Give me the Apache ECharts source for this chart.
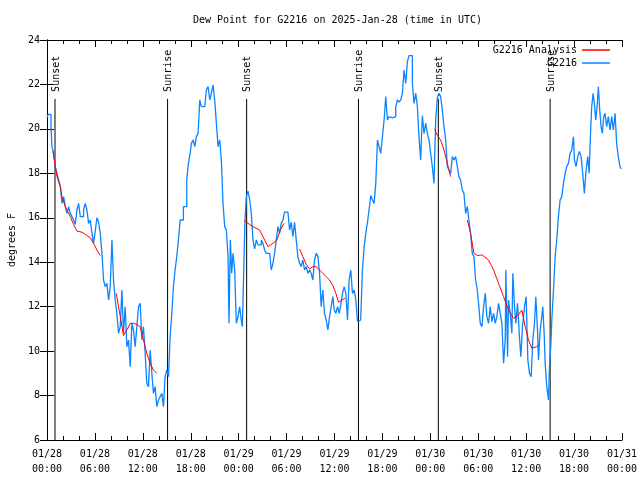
<!DOCTYPE html>
<html>
<head>
<meta charset="utf-8">
<script src="https://cdn.jsdelivr.net/npm/echarts@6/dist/echarts.min.js"></script>
<style>html,body{margin:0;padding:0;background:#fff}#c{width:640px;height:480px}</style>
</head>
<body>
<div id="c"></div>
<script>
// hours since 2025-01-28 00:00 UTC
var tickLabels = ['01/28\n00:00','01/28\n06:00','01/28\n12:00','01/28\n18:00','01/29\n00:00','01/29\n06:00','01/29\n12:00','01/29\n18:00','01/30\n00:00','01/30\n06:00','01/30\n12:00','01/30\n18:00','01/31\n00:00'];

var obsHours = [0,0.15,0.5,0.62,0.83,1.04,1.25,1.46,1.67,1.88,2.08,2.29,2.5,2.71,2.92,3.13,3.33,3.54,3.75,3.96,4.17,4.38,4.58,4.79,5.0,5.21,5.42,5.63,5.83,6.04,6.25,6.46,6.67,6.88,7.08,7.29,7.5,7.71,7.92,8.13,8.33,8.54,8.75,8.96,9.17,9.38,9.58,9.79,10.0,10.21,10.42,10.63,10.83,11.04,11.25,11.46,11.67,11.88,12.08,12.29,12.5,12.71,12.92,13.13,13.33,13.54,13.75,13.96,14.17,14.38,14.58,14.79,15.0,15.21,15.3,15.42,15.63,15.83,16.04,16.25,16.46,16.67,16.88,17.08,17.29,17.5,17.71,17.92,18.08,18.29,18.5,18.71,18.92,19.13,19.33,19.54,19.75,19.96,20.17,20.38,20.58,20.79,21.0,21.21,21.42,21.63,21.83,22.04,22.25,22.46,22.67,22.79,22.96,23.13,23.29,23.5,23.71,23.92,24.13,24.33,24.46,24.63,24.79,24.96,25.17,25.38,25.58,25.79,26.0,26.21,26.42,26.63,26.83,27.04,27.25,27.46,27.67,27.88,28.08,28.29,28.5,28.71,28.92,29.13,29.33,29.54,29.75,29.96,30.17,30.38,30.58,30.79,31.0,31.21,31.42,31.63,31.83,32.04,32.25,32.46,32.67,32.88,33.08,33.29,33.5,33.71,33.92,34.13,34.33,34.54,34.75,34.96,35.17,35.38,35.58,35.79,35.96,36.17,36.38,36.58,36.79,37.0,37.21,37.42,37.63,37.83,38.04,38.25,38.46,38.67,38.88,39.08,39.29,39.5,39.71,39.92,40.13,40.33,40.54,40.75,40.96,41.17,41.38,41.58,41.79,42.0,42.21,42.42,42.63,42.83,43.04,43.25,43.46,43.67,43.88,44.08,44.29,44.5,44.71,44.92,45.13,45.33,45.54,45.75,45.96,46.17,46.38,46.58,46.79,47.0,47.21,47.42,47.63,47.83,48.04,48.25,48.46,48.67,48.88,49.08,49.29,49.5,49.71,49.92,50.13,50.33,50.54,50.75,50.96,51.17,51.38,51.58,51.79,52.0,52.21,52.42,52.63,52.83,53.04,53.25,53.46,53.67,53.88,54.04,54.25,54.46,54.67,54.88,55.08,55.29,55.5,55.71,55.92,56.13,56.33,56.54,56.75,56.96,57.17,57.38,57.46,57.67,57.79,58.0,58.21,58.33,58.54,58.71,58.92,59.13,59.33,59.54,59.79,60.0,60.21,60.42,60.63,60.83,61.04,61.21,61.42,61.54,61.75,61.96,62.08,62.25,62.38,62.58,62.79,62.92,63.08,63.21,63.42,63.63,63.83,64.04,64.25,64.46,64.67,64.88,65.08,65.29,65.5,65.71,65.92,66.04,66.25,66.46,66.67,66.88,67.08,67.29,67.5,67.71,67.88,68.08,68.21,68.38,68.54,68.71,68.88,69.04,69.21,69.38,69.54,69.71,69.88,70.08,70.29,70.5,70.71,70.92,71.13,71.33,71.54,71.75,71.9];
var obsDew = [20.5,20.65,20.1,19.2,18.9,18.3,18.0,17.7,17.4,16.65,16.95,16.5,16.2,16.5,16.2,16.05,15.9,15.7,16.35,16.65,16.05,16.05,16.35,16.65,16.35,15.75,15.9,15.3,14.85,15.4,16.0,15.8,15.3,14.4,13.2,12.9,13.05,12.3,12.9,15.0,13.2,12.3,11.7,10.8,11.1,12.75,10.8,12.0,10.2,10.5,9.3,11.25,10.95,10.2,11.1,12.0,12.15,10.5,11.1,9.9,8.55,8.4,10.05,9.0,8.1,8.4,7.5,7.8,7.95,8.1,7.5,8.85,9.15,8.85,9.6,10.65,11.7,12.9,13.65,14.25,15.0,15.9,15.9,16.5,16.5,17.7,18.45,18.9,19.35,19.5,19.2,19.65,19.8,21.3,21.0,21.0,21.08,21.75,21.9,21.3,21.6,21.98,21.3,20.25,19.2,19.5,18.6,16.65,15.6,15.45,14.25,11.25,15.0,13.5,14.4,13.65,11.25,11.55,12.0,11.4,11.1,13.5,15.9,16.95,17.2,16.8,16.2,15.0,14.6,15.0,14.78,14.78,15.0,14.85,14.55,14.4,14.4,14.4,13.65,13.95,14.4,15.0,15.6,15.3,15.75,15.9,16.25,16.25,16.2,15.45,15.8,15.15,15.8,15.0,14.25,13.95,13.8,14.1,13.65,13.8,13.5,13.65,13.5,13.2,14.1,14.4,14.25,13.5,12.0,12.75,11.7,11.4,10.95,11.55,12.0,12.45,11.85,11.7,12.0,11.7,12.08,12.6,12.9,12.6,11.4,13.2,13.65,12.6,12.75,12.3,11.33,11.4,11.55,13.65,14.7,15.3,15.8,16.35,17.0,16.8,16.65,17.55,19.5,19.2,18.9,19.65,20.4,21.45,20.4,20.55,20.5,20.55,20.55,21.0,21.3,21.2,21.3,21.6,22.65,22.05,23.03,23.3,23.3,22.05,21.15,21.6,21.0,19.65,18.6,20.6,19.8,20.25,19.8,19.5,18.9,18.3,17.55,20.4,21.4,21.6,21.45,20.85,20.1,19.5,18.3,18.15,18.0,18.75,18.6,18.75,18.3,17.85,17.7,17.25,17.1,16.2,16.5,15.9,15.3,14.4,14.25,13.2,12.75,12.15,11.25,11.1,12.0,12.6,11.55,11.25,12.0,11.33,11.7,11.25,11.55,12.15,11.7,11.25,9.45,10.5,13.65,9.75,12.3,11.7,10.8,13.5,12.0,11.25,12.15,10.8,9.75,11.1,12.0,12.45,9.6,9.0,8.85,10.5,11.25,12.45,10.95,9.6,10.95,11.55,12.0,10.8,9.45,8.4,7.8,9.3,10.2,11.4,12.75,14.25,15.0,16.05,16.8,16.95,17.55,18.0,18.3,18.45,18.9,19.05,19.65,18.6,18.3,18.75,18.98,18.75,18.0,17.1,18.15,18.75,18.0,20.0,21.0,21.6,21.15,20.4,21.0,21.9,20.85,20.1,19.8,20.55,20.7,20.1,20.55,19.95,20.55,19.95,20.7,19.35,18.75,18.3,18.2];

var anaHours = [0.75,1.04,1.25,1.67,1.88,2.29,2.92,3.33,3.75,4.38,5.0,5.42,5.83,6.25,6.67,7.5,8.67,8.96,9.25,9.58,10.0,10.42,10.83,11.25,11.67,12.08,12.5,12.92,13.33,13.75,18,24.67,25.17,25.79,26.63,27.04,27.67,28.29,28.79,29.21,29.67,30.5,31.63,32.04,32.46,32.88,33.29,33.71,34.13,34.54,34.96,35.38,35.79,36.17,36.5,36.92,37.33,40,48.54,48.88,49.29,49.71,50.13,50.54,51.5,52.63,53.04,53.46,53.88,54.46,55.29,55.92,56.54,57.17,57.79,58.42,58.83,59.46,59.88,60.29,60.71,61.33,61.54];
var anaDew = [19.0,18.3,17.85,17.4,16.95,16.5,16.05,15.7,15.4,15.35,15.2,15.1,14.85,14.55,14.3,null,12.6,12.0,11.4,10.7,10.95,11.25,11.25,11.2,11.1,10.5,9.9,9.45,9.15,9.0,null,15.9,15.75,15.6,15.45,15.15,14.7,14.85,15.0,15.45,15.75,null,14.6,14.25,13.9,13.7,13.8,13.8,13.65,13.5,13.35,13.2,12.95,12.6,12.2,12.3,12.38,null,20.0,19.7,19.5,19.05,18.45,17.85,null,15.9,15.3,14.4,14.3,14.33,14.1,13.65,13.05,12.45,11.85,11.48,11.55,11.85,11.1,10.5,10.13,10.2,10.25];

var sunHours = [1.0,15.1,25.0,39.0,49.0,63.0];
var sunLabels = ['Sunset','Sunrise','Sunset','Sunrise','Sunset','Sunrise'];
var sunLineTop = 21.35;

function zip(a,b){return a.map(function(v,i){return [v,b[i]];});}

var FONT = 'DejaVu Sans Mono';
var chart = echarts.init(document.getElementById('c'), null, {renderer:'canvas'});
var axisCommon = {
  type:'value', splitLine:{show:false},
  axisLine:{show:true,lineStyle:{color:'#000',width:1}},
  axisTick:{show:true,inside:true,length:7,lineStyle:{color:'#000'}},
};
chart.setOption({
  animation:false,
  backgroundColor:'#fff',
  title:{text:'Dew Point for G2216 on 2025-Jan-28 (time in UTC)',left:188,top:10,
    textStyle:{fontFamily:FONT,fontSize:10,fontWeight:'normal',color:'#000'}},
  legend:[
    {data:['G2216 Analysis'],right:30,top:45,align:'right',orient:'vertical',padding:0,
     icon:'rect',itemWidth:28,itemHeight:1.5,textStyle:{fontFamily:FONT,fontSize:10,color:'#000'}},
    {data:['G2216'],right:30,top:58,align:'right',orient:'vertical',padding:0,
     icon:'rect',itemWidth:28,itemHeight:1.5,textStyle:{fontFamily:FONT,fontSize:10,color:'#000'}}
  ],
  grid:{left:47,right:18,top:40,bottom:40,containLabel:false,outerBoundsMode:'none'},
  xAxis:[
    Object.assign({},axisCommon,{position:'bottom',min:0,max:72,interval:6,
      minorTick:{show:true,splitNumber:3,length:4,lineStyle:{color:'#000'}},
      axisLabel:{margin:7,fontFamily:FONT,fontSize:10,color:'#000',lineHeight:15,
        formatter:function(v){return tickLabels[Math.round(v/6)];}}}),
    Object.assign({},axisCommon,{position:'top',min:0,max:72,interval:6,
      minorTick:{show:true,splitNumber:3,length:4,lineStyle:{color:'#000'}},
      axisLabel:{show:false}})
  ],
  yAxis:[
    Object.assign({},axisCommon,{position:'left',min:6,max:24,interval:2,
      name:'degrees F',nameLocation:'middle',nameGap:30,
      nameTextStyle:{fontFamily:FONT,fontSize:10,color:'#000'},
      axisLabel:{margin:7,fontFamily:FONT,fontSize:10,color:'#000'}}),
    Object.assign({},axisCommon,{position:'right',min:6,max:24,interval:2,axisLabel:{show:false}})
  ],
  series:[
    {name:'G2216 Analysis',type:'line',data:zip(anaHours,anaDew),showSymbol:false,symbol:'none',
     connectNulls:false,z:4,color:'#ff0000',lineStyle:{color:'#ff0000',width:1},itemStyle:{color:'#ff0000'}},
    {name:'G2216',type:'line',step:'end',data:zip(obsHours,obsDew),showSymbol:false,symbol:'none',
     z:3,color:'#0a84ff',lineStyle:{color:'#0a84ff',width:1.3},itemStyle:{color:'#0a84ff'}},
    {name:'sun',type:'custom',data:sunHours.map(function(t){return [t];}),z:2,clip:false,
     encode:{x:0},
     renderItem:function(params,api){
       var t = api.value(0);
       var p0 = api.coord([t,6]);
       var p1 = api.coord([t,sunLineTop]);
       return {type:'group',children:[
         {type:'line',shape:{x1:p0[0],y1:p0[1],x2:p1[0],y2:p1[1]},style:{stroke:'#000',lineWidth:1}},
         {type:'text',x:p1[0]+1,y:p1[1]-7,rotation:Math.PI/2,
          style:{text:sunLabels[params.dataIndex],fill:'#000',font:'10px '+FONT,align:'left',verticalAlign:'middle'}}
       ]};
     }}
  ]
});
</script>
</body>
</html>
